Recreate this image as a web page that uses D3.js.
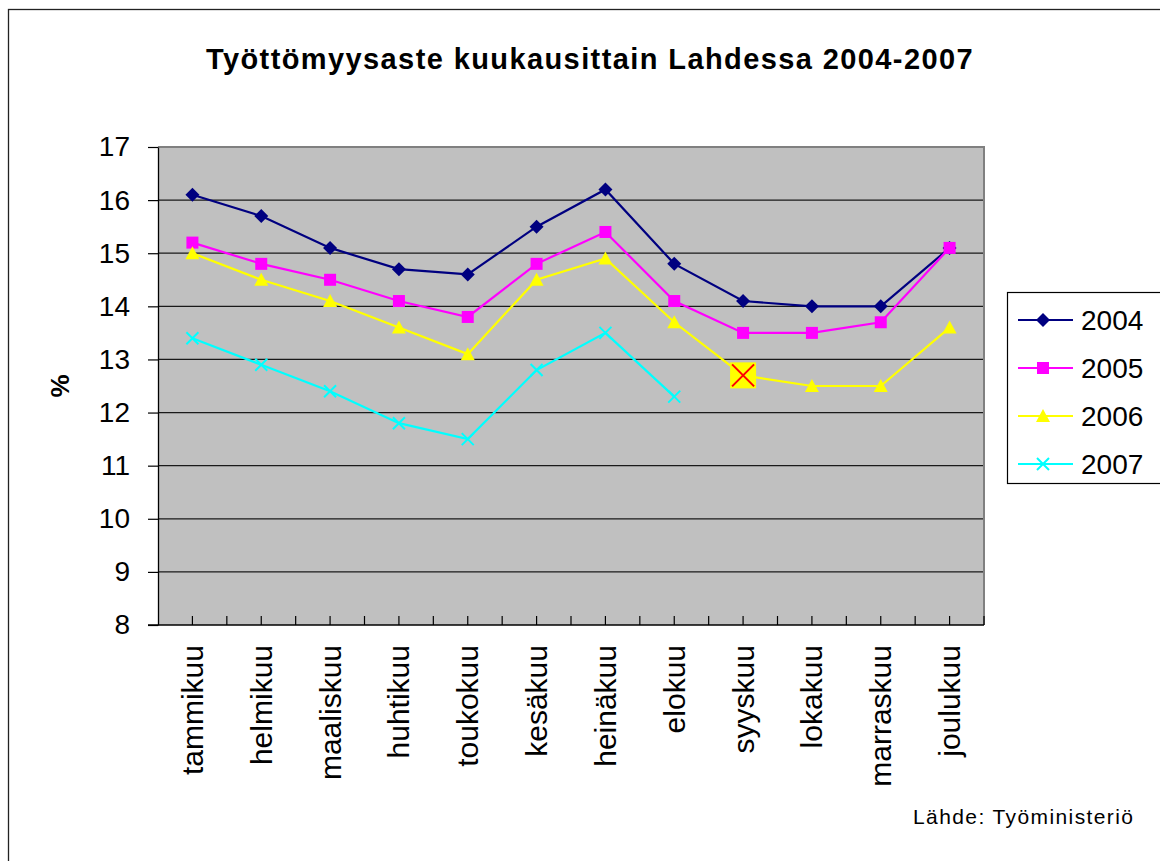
<!DOCTYPE html>
<html>
<head>
<meta charset="utf-8">
<script src="https://cdn.jsdelivr.net/npm/d3@7"></script>
<style>
  html, body { margin: 0; padding: 0; background: #fff; }
  svg { display: block; font-family: "Liberation Sans", Arial, sans-serif; }
</style>
</head>
<body>
<div id="chart"></div>
<script>
const months = ["tammikuu", "helmikuu", "maaliskuu", "huhtikuu", "toukokuu", "kesäkuu",
                "heinäkuu", "elokuu", "syyskuu", "lokakuu", "marraskuu", "joulukuu"];
const years = ["2004", "2005", "2006", "2007"];
const v2004 = [16.1, 15.7, 15.1, 14.7, 14.6, 15.5, 16.2, 14.8, 14.1, 14.0, 14.0, 15.1];
const v2005 = [15.2, 14.8, 14.5, 14.1, 13.8, 14.8, 15.4, 14.1, 13.5, 13.5, 13.7, 15.1];
const v2006 = [15.0, 14.5, 14.1, 13.6, 13.1, 14.5, 14.9, 13.7, 12.7, 12.5, 12.5, 13.6];
const v2007 = [13.4, 12.9, 12.4, 11.8, 11.5, 12.8, 13.5, 12.3, null, null, null, null];
const yTicks = [8, 9, 10, 11, 12, 13, 14, 15, 16, 17];
// the one point Excel drew with a highlighted marker
const highlight = { year: "2006", month: "syyskuu" };

const W = 1160, H = 861;
const pL = 158, pR = 984, pT = 147, pB = 625;

const series = [
  { name: years[0], values: v2004, color: "#000080", marker: "diamond" },
  { name: years[1], values: v2005, color: "#FF00FF", marker: "square" },
  { name: years[2], values: v2006, color: "#FFFF00", marker: "triangle" },
  { name: years[3], values: v2007, color: "#00FFFF", marker: "x" }
];

const svg = d3.select("#chart").append("svg").attr("width", W).attr("height", H);

// outer chart frame (runs off the right/bottom of the picture)
svg.append("rect").attr("x", 8.5).attr("y", 9.5).attr("width", W + 20).attr("height", H + 20)
   .attr("fill", "#fff").attr("stroke", "#222").attr("stroke-width", 1.3);

svg.append("text").attr("x", 590).attr("y", 69).attr("text-anchor", "middle")
   .attr("font-size", "29px").attr("font-weight", "bold").attr("letter-spacing", "1.4px")
   .text("Työttömyysaste kuukausittain Lahdessa 2004-2007");

const xB = d3.scaleBand().domain(months).range([pL, pR]);
const xC = m => xB(m) + xB.bandwidth() / 2;
const yS = d3.scaleLinear().domain([8, 17]).range([pB, pT]);

// plot area
svg.append("rect").attr("x", pL).attr("y", pT).attr("width", pR - pL).attr("height", pB - pT)
   .attr("fill", "#C0C0C0");

// gridlines
yTicks.filter(t => t > 8 && t < 17).forEach(t => {
  svg.append("line").attr("x1", pL).attr("x2", pR).attr("y1", yS(t)).attr("y2", yS(t))
     .attr("stroke", "#1a1a1a").attr("stroke-width", 1.2);
});

// plot border top/right
svg.append("path").attr("d", `M${pL},${pT}H${pR}V${pB}`).attr("fill", "none")
   .attr("stroke", "#808080").attr("stroke-width", 2);

// y axis
const yAxis = d3.axisLeft(yS).tickValues(yTicks).tickSize(10).tickPadding(18).tickSizeOuter(0);
const gy = svg.append("g").attr("transform", `translate(${pL},0)`).call(yAxis);
gy.select(".domain").attr("stroke", "#000").attr("stroke-width", 1.3);
gy.selectAll(".tick line").attr("stroke", "#000").attr("stroke-width", 1.2);
gy.selectAll(".tick text").attr("font-size", "28px").attr("fill", "#000")
  .attr("font-family", "Liberation Sans, Arial, sans-serif");

// x axis: ticks at category edges and centres, pointing into the plot
const gx = svg.append("g");
gx.append("line").attr("x1", pL - 10).attr("x2", pR).attr("y1", pB).attr("y2", pB)
  .attr("stroke", "#000").attr("stroke-width", 1.3);
months.forEach((m, i) => {
  [xB(m), xC(m)].forEach((x, j) => {
    if (i === 0 && j === 0) return;
    gx.append("line").attr("x1", x).attr("x2", x).attr("y1", pB).attr("y2", pB - 9)
      .attr("stroke", "#000").attr("stroke-width", 1.2);
  });
  gx.append("text").attr("transform", `translate(${xC(m)},${pB + 20}) rotate(-90)`)
    .attr("text-anchor", "end").attr("dominant-baseline", "central")
    .attr("font-size", "30px").text(m);
});
gx.append("line").attr("x1", pR).attr("x2", pR).attr("y1", pB).attr("y2", pB - 9)
  .attr("stroke", "#000").attr("stroke-width", 1.2);

svg.append("text").attr("transform", `translate(60,386) rotate(-90)`)
   .attr("text-anchor", "middle").attr("dominant-baseline", "central")
   .attr("font-size", "26px").attr("font-weight", "bold").text("%");

function drawMarker(g, type, x, y, color) {
  if (type === "diamond") {
    g.append("path").attr("d", `M${x},${y - 7}L${x + 7},${y}L${x},${y + 7}L${x - 7},${y}Z`).attr("fill", color);
  } else if (type === "square") {
    g.append("rect").attr("x", x - 6).attr("y", y - 6).attr("width", 12).attr("height", 12).attr("fill", color);
  } else if (type === "triangle") {
    g.append("path").attr("d", `M${x},${y - 7}L${x + 7},${y + 6}L${x - 7},${y + 6}Z`).attr("fill", color);
  } else {
    g.append("path").attr("d", `M${x - 6},${y - 6}L${x + 6},${y + 6}M${x - 6},${y + 6}L${x + 6},${y - 6}`)
     .attr("stroke", color).attr("stroke-width", 2).attr("fill", "none");
  }
}

const line = d3.line().defined(d => d.v != null).x(d => xC(d.m)).y(d => yS(d.v));

series.forEach(s => {
  const data = months.map((m, i) => ({ m, v: s.values[i] }));
  const g = svg.append("g");
  g.append("path").datum(data).attr("d", line).attr("fill", "none")
   .attr("stroke", s.color).attr("stroke-width", 2.2);
  data.filter(d => d.v != null).forEach(d => {
    if (s.name === highlight.year && d.m === highlight.month) {
      const x = xC(d.m), y = yS(d.v);
      g.append("rect").attr("x", x - 13).attr("y", y - 13).attr("width", 26).attr("height", 26).attr("fill", "#FFFF00");
      g.append("path").attr("d", `M${x - 11},${y - 11}L${x + 11},${y + 11}M${x - 11},${y + 11}L${x + 11},${y - 11}`)
       .attr("stroke", "#FF0000").attr("stroke-width", 2);
    } else {
      drawMarker(g, s.marker, xC(d.m), yS(d.v), s.color);
    }
  });
});

// legend
const lg = svg.append("g");
lg.append("rect").attr("x", 1007.5).attr("y", 292.5).attr("width", 200).attr("height", 191)
  .attr("fill", "#fff").attr("stroke", "#000").attr("stroke-width", 1.2);
series.forEach((s, i) => {
  const y = 320 + i * 48;
  lg.append("line").attr("x1", 1018).attr("x2", 1073).attr("y1", y).attr("y2", y)
    .attr("stroke", s.color).attr("stroke-width", 2.2);
  drawMarker(lg, s.marker, 1043, y, s.color);
  lg.append("text").attr("x", 1081).attr("y", y).attr("dominant-baseline", "central")
    .attr("font-size", "28px").text(s.name);
});

svg.append("text").attr("x", 913).attr("y", 824).attr("font-size", "21px")
   .attr("letter-spacing", "1.4px").text("Lähde: Työministeriö");
</script>
</body>
</html>
